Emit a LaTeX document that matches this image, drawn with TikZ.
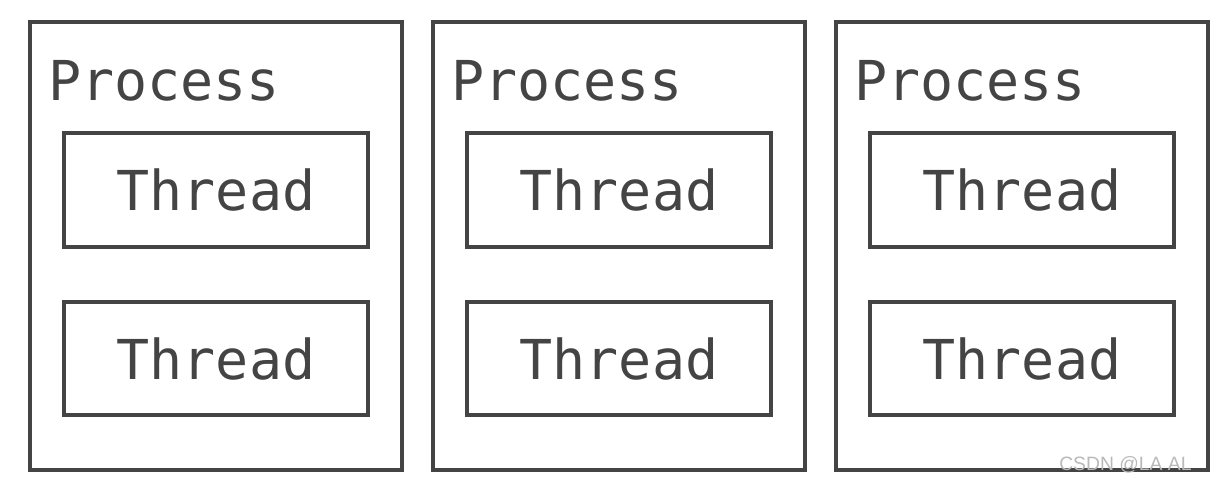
\documentclass[tikz,border=0pt]{standalone}
\usepackage{fontspec}
\setmonofont{DejaVu Sans Mono}
\newfontfamily\markfont{Liberation Sans}
\usepackage{tikz}
\definecolor{boxgray}{HTML}{444444}
\tikzset{
  procbox/.style={draw=boxgray, line width=0.08cm, minimum width=7.44cm,
    minimum height=8.96cm, inner sep=0pt},
  threadbox/.style={draw=boxgray, line width=0.08cm, minimum width=6.1cm,
    minimum height=2.28cm, inner sep=0pt, text=boxgray,
    font=\ttfamily\fontsize{31.3}{36}\selectfont},
  proclabel/.style={anchor=base west, inner sep=0pt, text=boxgray,
    font=\ttfamily\fontsize{31.3}{36}\selectfont},
  marklabel/.style={anchor=base east, inner sep=0pt, text=gray!55,
    font=\markfont\fontsize{11}{13}\selectfont}
}

\begin{document}
\begin{tikzpicture}[x=0.02cm,y=-0.02cm]
\useasboundingbox (0,0) rectangle (1232,490);
% one process with two threads per column
\foreach \i/\x in {1/30,2/433,3/836}{
  \node[procbox] (proc\i) at (\x+186,246) {};
  \node[proclabel] (plabel\i) at (\x+18,100) {Process};
  \node[threadbox] (thrA\i) at (\x+186,190) {Thread};
  \node[threadbox] (thrB\i) at (\x+186,358.5) {Thread};
}
% watermark
\node[marklabel] (mark) at (1192,470) {CSDN @LA AL};
\end{tikzpicture}
\end{document}
